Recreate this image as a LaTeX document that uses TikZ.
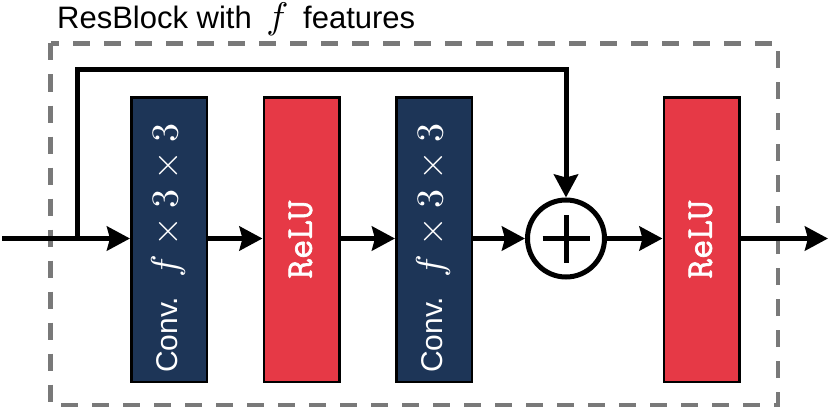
\documentclass[tikz,border=0pt]{standalone}
\usepackage{graphicx}
\usepackage{fontspec}
\setmainfont{Liberation Sans}
\newfontfamily\relufont{Latin Modern Mono}[FakeBold=1.6]
\usetikzlibrary{arrows.meta}
\definecolor{navy}{HTML}{1D3557}
\definecolor{redc}{HTML}{E63946}
\newcommand{\bigmath}[2]{\scalebox{#1}{\fontsize{10}{12}\selectfont$#2$}}
\begin{document}
\begin{tikzpicture}[x=1pt,y=-1pt,
  blk/.style={draw=black, line width=2.5pt, minimum width=75.5pt, minimum height=284.5pt, inner sep=0pt},
  convbox/.style={blk, fill=navy},
  relubox/.style={blk, fill=redc},
  flow/.style={line width=5pt, line join=miter, -{Stealth[length=23pt,width=24pt,inset=3pt]}},
  lbl/.style={rotate=90, text=white, inner sep=0pt},
  convlbl/.style={lbl, anchor=west, font=\fontsize{30}{34}\selectfont},
  relulbl/.style={lbl, font=\relufont\fontsize{38}{40}\selectfont},
  frame/.style={draw=gray!95!black, line width=4.5pt, dash pattern=on 17pt off 14pt},
  title/.style={anchor=base west, inner sep=0pt, font=\fontsize{31}{36}\selectfont},
]
\useasboundingbox (0,0) rectangle (830,412);
\draw[frame] (50.5,43.5) rectangle (778,405);
\node[title] (t) at (57,29) {ResBlock with\hspace{6pt} \bigmath{3.7}{f}\hspace{6pt} features};

\node[convbox] (c1) at (169,239.5) {};
\node[relubox] (r1) at (301.5,239.5) {};
\node[convbox] (c2) at (434,239.5) {};
\node[relubox] (r2) at (701.5,239.5) {};
\node[draw, circle, line width=5pt, minimum size=77pt, inner sep=0pt] (plus) at (566,238.5) {};

\node[convlbl] at ([xshift=-1pt]c1.center |- 0,373) {Conv.\hspace{8pt} \bigmath{3.8}{f\times3\times3}};
\node[convlbl] at ([xshift=-1pt]c2.center |- 0,373) {Conv.\hspace{8pt} \bigmath{3.8}{f\times3\times3}};
\node[relulbl] at ([xshift=-1pt]r1.center) {ReLU};
\node[relulbl] at ([xshift=-1pt]r2.center) {ReLU};

\draw[line width=5pt] ([xshift=-23.5pt]plus.center) -- ([xshift=23.5pt]plus.center);
\draw[line width=5pt] ([yshift=-24pt]plus.center) -- ([yshift=24pt]plus.center);

\coordinate (in) at (2,238.5);
\coordinate (split) at (77,238.5);
\coordinate (skiptop) at (300,70);
\coordinate (out) at (828,238.5);

\draw[flow] (in) -- (c1.west |- in);
\draw[flow] (c1.east |- in) -- (r1.west |- in);
\draw[flow] (r1.east |- in) -- (c2.west |- in);
\draw[flow] (c2.east |- in) -- (plus.west);
\draw[flow] (plus.east) -- (r2.west |- in);
\draw[flow] (r2.east |- in) -- (out);
\draw[flow] (split) |- (skiptop) -| (plus.north);
\end{tikzpicture}
\end{document}
